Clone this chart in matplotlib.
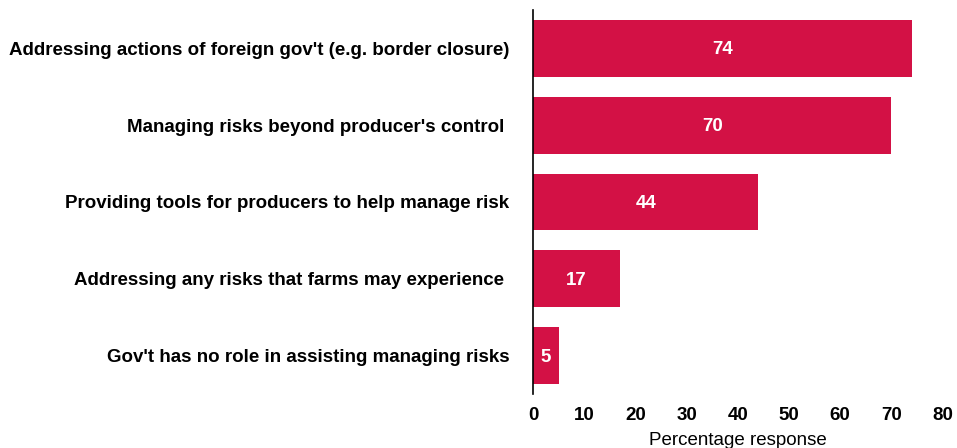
import matplotlib
matplotlib.use("Agg")
import matplotlib.pyplot as plt
import numpy as np

plt.rcParams['font.family'] = ['Liberation Sans', 'DejaVu Sans']

# survey answers, top to bottom
categories = [
    "Addressing actions of foreign gov't (e.g. border closure)",
    "Managing risks beyond producer's control ",
    "Providing tools for producers to help manage risk",
    "Addressing any risks that farms may experience ",
    "Gov't has no role in assisting managing risks",
]
values = [74, 70, 44, 17, 5]
xticks = [0, 10, 20, 30, 40, 50, 60, 70, 80]

bar_color = '#D31145'

fig = plt.figure(figsize=(9.57, 4.48), dpi=100)
ax = fig.add_axes([0.557, 0.1205, 0.428, 0.8575])

y = np.arange(len(categories))
bars = ax.barh(y, values, height=0.74, color=bar_color)

for rect, v in zip(bars, values):
    ax.text(rect.get_width() / 2, rect.get_y() + rect.get_height() / 2 + 0.02, str(v),
            ha='center', va='center', color='white', fontsize=13.5, fontweight='bold')

ax.set_ylim(len(categories) - 0.5, -0.5)
ax.set_xlim(0, 80)
ax.set_yticks(y)
ax.set_yticklabels(categories, fontsize=13.5, fontweight='bold')
ax.set_xticks(xticks)
ax.set_xticklabels([str(t) for t in xticks], fontsize=13.5, fontweight='bold')
ax.tick_params(axis='both', length=0)
ax.tick_params(axis='y', pad=17)
ax.tick_params(axis='x', pad=9)
ax.set_xlabel('Percentage response', fontsize=13.5, labelpad=6)

for side in ['top', 'right', 'bottom']:
    ax.spines[side].set_visible(False)
ax.spines['left'].set_linewidth(1.2)

plt.savefig('out.png', dpi=100)
